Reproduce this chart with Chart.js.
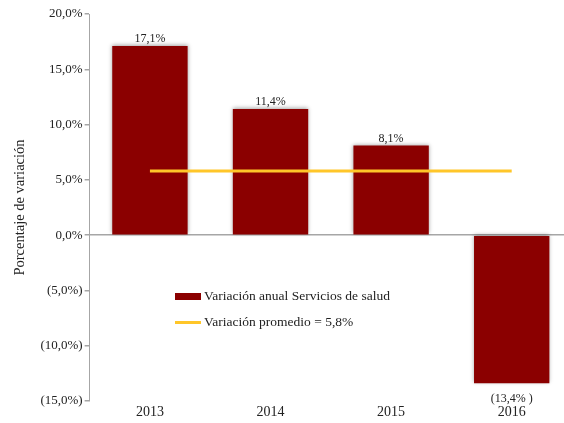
<!DOCTYPE html>
<html lang="es">
<head>
<meta charset="UTF-8">
<title>Variación anual Servicios de salud</title>
<style>
    html, body { margin: 0; padding: 0; background: #fff; }
    .wrap { position: relative; width: 564px; height: 423px; overflow: hidden; }
    .legend {
        position: absolute; left: 175px; top: 289px;
        font-family: "Liberation Serif", "Times New Roman", serif;
        font-size: 13.5px; color: #222;
    }
    .legend .item { display: flex; align-items: center; height: 14px; margin-bottom: 12px; }
    .legend .swatch { width: 26px; margin-right: 3px; }
    .legend .box { height: 7px; background: #8B0000; }
    .legend .line { height: 3px; background: #FFC629; }
</style>
</head>
<body>
<div class="wrap">
    <!-- the plot runs a little past the right edge, so the canvas is wider than the frame -->
    <canvas id="chart" width="572" height="423"></canvas>
    <div class="legend">
        <div class="item"><span class="swatch box"></span>Variación anual Servicios de salud</div>
        <div class="item"><span class="swatch line"></span>Variación promedio = 5,8%</div>
    </div>
</div>

<script src="https://cdn.jsdelivr.net/npm/chart.js"></script>
<script>
    const years = ['2013', '2014', '2015', '2016'];
    const annualChange = [17.1, 11.4, 8.1, -13.4];
    const averageChange = [5.8, 5.8, 5.8, 5.8];
    const yTicks = [-15, -10, -5, 0, 5, 10, 15, 20];

    const serif = '"Liberation Serif", "Times New Roman", serif';
    const axisGray = '#a6a6a6';

    function pct(v, spaced) {
        const s = Math.abs(v).toFixed(1).replace('.', ',') + '%';
        return v < 0 ? '(' + s + (spaced ? ' )' : ')') : s;
    }

    // soft shadow behind the bars
    const barShadow = {
        id: 'barShadow',
        beforeDatasetDraw(chart, args) {
            if (args.meta.type !== 'bar') return;
            const ctx = chart.ctx;
            ctx.save();
            ctx.shadowColor = 'rgba(0,0,0,0.35)';
            ctx.shadowBlur = 4;
            ctx.shadowOffsetY = -1;
        },
        afterDatasetDraw(chart, args) {
            if (args.meta.type !== 'bar') return;
            chart.ctx.restore();
        }
    };

    // value labels above / below each bar
    const barLabels = {
        id: 'barLabels',
        afterDatasetsDraw(chart) {
            const ctx = chart.ctx;
            const meta = chart.getDatasetMeta(1);
            ctx.save();
            ctx.font = '12px ' + serif;
            ctx.fillStyle = '#222';
            ctx.textAlign = 'center';
            meta.data.forEach((bar, i) => {
                const v = annualChange[i];
                if (v >= 0) {
                    ctx.textBaseline = 'bottom';
                    ctx.fillText(pct(v), bar.x, bar.y - 1);
                } else {
                    ctx.textBaseline = 'top';
                    ctx.fillText(pct(v, true), bar.x, bar.y + 10);
                }
            });
            ctx.restore();
        }
    };

    new Chart(document.getElementById('chart'), {
        data: {
            labels: years,
            datasets: [
                {
                    type: 'line',
                    label: 'Variación promedio = 5,8%',
                    data: averageChange,
                    borderColor: '#FFC629',
                    borderWidth: 3,
                    pointRadius: 0,
                    order: 0
                },
                {
                    type: 'bar',
                    label: 'Variación anual Servicios de salud',
                    data: annualChange,
                    backgroundColor: '#8B0000',
                    categoryPercentage: 1,
                    barPercentage: 0.625,
                    order: 1
                }
            ]
        },
        options: {
            responsive: false,
            animation: false,
            layout: { padding: { top: 14, right: 0, bottom: 0, left: 11 } },
            plugins: {
                legend: { display: false },
                tooltip: { enabled: false }
            },
            scales: {
                x: {
                    grid: { display: false, drawTicks: false },
                    border: { display: false },
                    ticks: { color: '#222', font: { family: serif, size: 14, lineHeight: 1 }, padding: 4 }
                },
                y: {
                    min: -15,
                    max: 20,
                    afterBuildTicks(scale) {
                        scale.ticks = yTicks.map(v => ({ value: v }));
                    },
                    grid: {
                        color: c => (c.tick && c.tick.value === 0 ? axisGray : 'rgba(0,0,0,0)'),
                        tickColor: axisGray,
                        tickLength: 5,
                        lineWidth: 1.5
                    },
                    border: { display: true, color: axisGray },
                    ticks: {
                        color: '#222',
                        font: { family: serif, size: 13 },
                        padding: 2,
                        callback: v => pct(v)
                    },
                    title: {
                        display: true,
                        text: 'Porcentaje de variación',
                        color: '#222',
                        font: { family: serif, size: 14.5 },
                        padding: { top: 0, bottom: 10 }
                    }
                }
            }
        },
        plugins: [barShadow, barLabels]
    });
</script>
</body>
</html>
